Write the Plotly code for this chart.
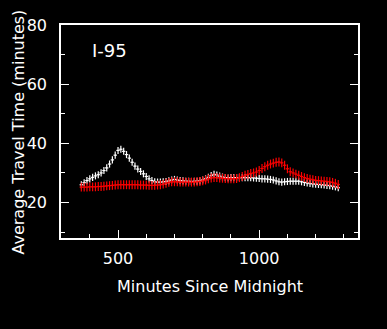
import plotly.graph_objects as go

minutes = [370, 380, 390, 400, 410, 420, 430, 440, 450, 460, 470, 480, 490, 500, 510, 520, 530, 540, 550, 560,
           570, 580, 590, 600, 610, 620, 630, 640, 650, 660, 670, 680, 690, 700, 710, 720, 730, 740, 750, 760,
           770, 780, 790, 800, 810, 820, 830, 840, 850, 860, 870, 880, 890, 900, 910, 920, 930, 940, 950, 960,
           970, 980, 990, 1000, 1010, 1020, 1030, 1040, 1050, 1060, 1070, 1080, 1090, 1100, 1110, 1120, 1130,
           1140, 1150, 1160, 1170, 1180, 1190, 1200, 1210, 1220, 1230, 1240, 1250, 1260, 1270, 1280]

white_vals = [26.0, 26.7, 27.4, 28.0, 28.5, 29.0, 29.4, 30.0, 30.8, 31.7, 33.0, 34.4, 36.0, 37.6, 38.0, 37.3,
              36.2, 35.0, 33.6, 32.3, 31.3, 30.5, 29.7, 28.8, 28.0, 27.4, 27.0, 26.9, 26.9, 27.0, 27.1, 27.3,
              27.6, 27.8, 27.6, 27.4, 27.3, 27.2, 27.2, 27.1, 27.2, 27.2, 27.3, 27.6, 28.0, 28.5, 29.1, 29.5,
              29.3, 28.9, 28.6, 28.4, 28.3, 28.4, 28.4, 28.4, 28.4, 28.4, 28.4, 28.4, 28.4, 28.3, 28.2, 28.1,
              28.0, 28.0, 27.9, 27.8, 27.6, 27.3, 27.0, 26.9, 27.0, 27.1, 27.2, 27.2, 27.2, 27.2, 27.0, 26.8,
              26.6, 26.4, 26.3, 26.2, 26.1, 26.0, 25.9, 25.8, 25.7, 25.5, 25.3, 25.0]

red_vals = [25.2, 25.2, 25.2, 25.3, 25.3, 25.3, 25.4, 25.4, 25.5, 25.6, 25.7, 25.8, 25.9, 26.0, 26.0, 26.0,
            26.0, 26.0, 26.0, 26.0, 26.0, 25.9, 25.9, 25.9, 25.8, 25.8, 25.8, 25.9, 26.0, 26.2, 26.5, 26.8,
            27.0, 27.0, 27.0, 26.9, 26.9, 26.9, 26.9, 26.9, 26.9, 27.0, 27.1, 27.3, 27.6, 28.0, 28.3, 28.4,
            28.4, 28.3, 28.2, 28.1, 28.0, 28.0, 28.0, 28.1, 28.4, 28.8, 29.2, 29.5, 29.8, 30.0, 30.3, 30.8,
            31.5, 32.1, 32.6, 33.0, 33.3, 33.6, 33.7, 33.4, 32.6, 31.4, 30.4, 30.0, 29.6, 29.2, 28.8, 28.4,
            28.1, 27.9, 27.7, 27.5, 27.4, 27.3, 27.2, 27.1, 27.0, 26.8, 26.5, 26.1]

white_err = 1.2
red_err = 1.5
time_err = 6

label_text = "I-95"
x_title = "Minutes Since Midnight"
y_title = "Average Travel Time (minutes)"

FONT = "DejaVu Sans"

fig = go.Figure()
for vals, color, yerr in [(white_vals, "white", white_err), (red_vals, "red", red_err)]:
    fig.add_trace(go.Scatter(
        x=minutes, y=vals, mode="markers",
        marker=dict(size=1, color=color),
        error_y=dict(type="constant", value=yerr, color=color, thickness=1.2, width=0),
        error_x=dict(type="constant", value=time_err, color=color, thickness=1.2, width=0),
        showlegend=False, hoverinfo="skip",
    ))

fig.add_annotation(x=0.098, y=0.88, xref="paper", yref="paper", text=label_text, showarrow=False,
                   xanchor="left", yanchor="middle", font=dict(family=FONT, size=18, color="white"))
fig.add_annotation(x=0.502, y=-0.23, xref="paper", yref="paper", text=x_title, showarrow=False,
                   xanchor="center", yanchor="middle", font=dict(family=FONT, size=16, color="white"))
fig.add_annotation(x=-0.1414, y=0.495, xref="paper", yref="paper", text=y_title, showarrow=False,
                   textangle=-90, xanchor="center", yanchor="middle",
                   font=dict(family=FONT, size=16, color="white"))

fig.update_layout(
    width=387, height=329,
    margin=dict(l=61, r=29, t=25, b=91),
    paper_bgcolor="black", plot_bgcolor="black",
    font=dict(family=FONT, color="white"),
)
fig.update_xaxes(
    range=[298, 1350], showgrid=False, zeroline=False,
    showline=True, linecolor="white", linewidth=1.5, mirror=True,
    tickmode="linear", tick0=0, dtick=500, ticks="inside", ticklen=8, tickwidth=1.2, tickcolor="white",
    minor=dict(dtick=100, tick0=0, ticks="inside", ticklen=4, tickwidth=1.2, tickcolor="white"),
    tickfont=dict(family=FONT, size=16, color="white"),
    ticklabelstandoff=5,
)
fig.update_yaxes(
    range=[8, 80], showgrid=False, zeroline=False,
    showline=True, linecolor="white", linewidth=1.5, mirror="ticks",
    tickmode="linear", tick0=0, dtick=20, ticks="inside", ticklen=8, tickwidth=1.2, tickcolor="white",
    minor=dict(dtick=10, tick0=0, ticks="inside", ticklen=4, tickwidth=1.2, tickcolor="white"),
    tickfont=dict(family=FONT, size=16, color="white"),
    ticklabelstandoff=9,
)

fig.write_html("out.html")
